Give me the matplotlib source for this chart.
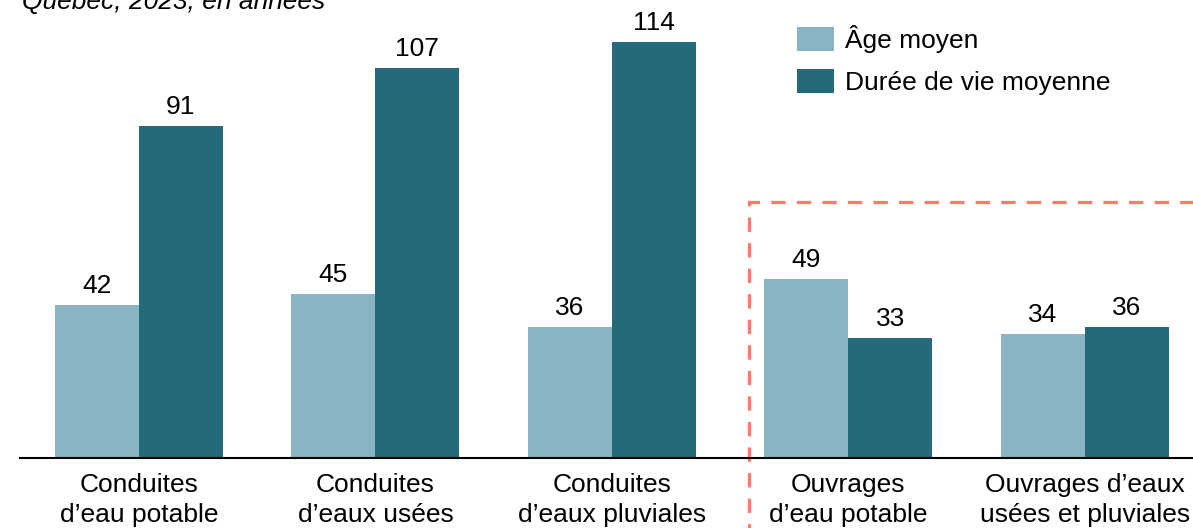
import numpy as np
import matplotlib.pyplot as plt
from matplotlib.patches import Rectangle

plt.rcParams['font.family'] = ['Liberation Sans', 'DejaVu Sans']

categories = ['Conduites\nd\u2019eau potable', 'Conduites\nd\u2019eaux usées', 'Conduites\nd\u2019eaux pluviales',
              'Ouvrages\nd\u2019eau potable', 'Ouvrages d\u2019eaux\nusées et pluviales']
age_moyen = [42, 45, 36, 49, 34]
duree_vie = [91, 107, 114, 33, 36]
series_names = ['Âge moyen', 'Durée de vie moyenne']

light = '#88B5C1'
dark = '#246A7B'
fs = 19

fig = plt.figure(figsize=(11.93, 5.28), dpi=100)
ax = fig.add_axes([20 / 1193, 70 / 528, 1173 / 1193, 458 / 528])

x = np.arange(len(categories))
w = 0.355
b1 = ax.bar(x - w / 2, age_moyen, w, color=light, label=series_names[0])
b2 = ax.bar(x + w / 2, duree_vie, w, color=dark, label=series_names[1])

for bars in (b1, b2):
    for rect in bars:
        h = rect.get_height()
        ax.annotate(f'{h:.0f}', (rect.get_x() + rect.get_width() / 2, h),
                    xytext=(0, 5), textcoords='offset points',
                    ha='center', va='bottom', fontsize=fs)

ax.set_xlim(-0.503, 4.457)
ax.set_ylim(0, 125.5)
ax.set_xticks(x)
ax.set_xticklabels(categories, fontsize=fs, linespacing=1.3)
ax.tick_params(axis='x', length=0, pad=11)
ax.set_yticks([])
for s in ['top', 'right', 'left']:
    ax.spines[s].set_visible(False)
ax.spines['bottom'].set_linewidth(1.5)

# dashed frame around the "Ouvrages" groups
box = Rectangle((2.579, -40), 3, 110.2, fill=False, edgecolor='#FF7A6A',
                linewidth=2.3, linestyle=(0, (4.5, 3.5)), clip_on=False)
ax.add_patch(box)

fig.text(22 / 1193, 1 - 9 / 528, 'Québec, 2023, en années', fontsize=fs,
         style='italic', ha='left', va='baseline')

ax.legend(loc='upper left', bbox_to_anchor=(797 / 1193, 1 - 25 / 528),
          bbox_transform=fig.transFigure, frameon=False, fontsize=fs,
          handlelength=1.42, handleheight=1.05, handletextpad=0.4,
          labelspacing=0.6, borderpad=0, borderaxespad=0)

fig.savefig('out.png', dpi=100)
